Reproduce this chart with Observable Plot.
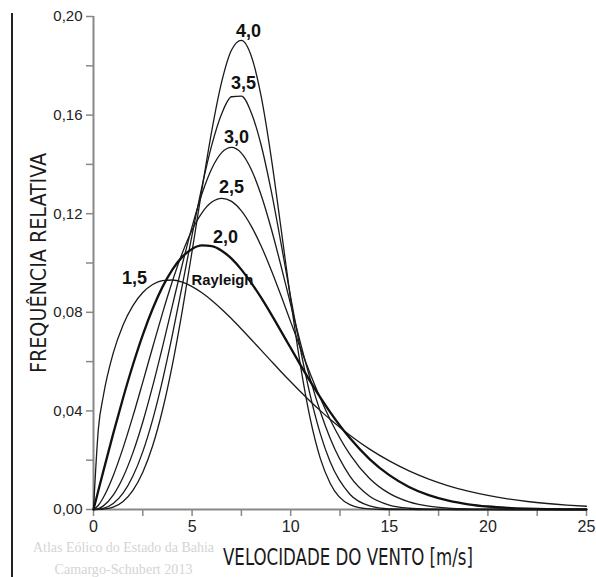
<!DOCTYPE html>
<html><head><meta charset="utf-8">
<script src="https://cdn.jsdelivr.net/npm/d3@7"></script>
<script src="https://cdn.jsdelivr.net/npm/@observablehq/plot@0.6"></script>
<style>
html,body{margin:0;padding:0;background:#fff;}
#chart{position:relative;width:596px;height:577px;overflow:hidden;}
#border{position:absolute;left:11px;top:13px;width:2px;height:570px;background:#222;}
</style></head><body><div id="chart"><div id="border"></div></div>
<script>
// Wind speed (m/s) at which the curves were read
const speeds = [0,0.25,0.5,1,1.5,2,2.5,3,3.5,4,4.5,5,5.5,6,6.5,7,7.5,8,8.5,9,9.5,10,10.5,11,11.5,12,13,14,15,16,17,18,19,20,21,22,23,24,25];
// Weibull shape factors (labels)
const shapes = ["1,5","2,0","2,5","3,0","3,5","4,0"];
// Relative frequency per curve
const f15 = [0,0.03296,0.04615,0.06343,0.07486,0.08273,0.08802,0.09126,0.09286,0.09310,0.09223,0.09044,0.08792,0.08481,0.08126,0.07737,0.07324,0.06898,0.06464,0.06031,0.05601,0.05182,0.04776,0.04384,0.04011,0.03658,0.03012,0.02450,0.01971,0.01567,0.01234,0.00962,0.00743,0.00569,0.00432,0.00325,0.00243,0.00180,0.00132];
const f20 = [0,0.00780,0.01556,0.03077,0.04525,0.05871,0.07086,0.08145,0.09032,0.09735,0.10249,0.10572,0.10713,0.10684,0.10498,0.10175,0.09732,0.09197,0.08591,0.07935,0.07247,0.06550,0.05860,0.05190,0.04550,0.03953,0.02898,0.02046,0.01393,0.00916,0.00581,0.00356,0.00211,0.00121,0.00067,0.00036,0.00019,0.00009,0.00004];
const f25 = [0,0.00173,0.00488,0.01373,0.02499,0.03786,0.05169,0.06584,0.07968,0.09258,0.10399,0.11338,0.12038,0.12471,0.12623,0.12498,0.12113,0.11496,0.10690,0.09740,0.08698,0.07612,0.06530,0.05488,0.04522,0.03649,0.02235,0.01259,0.00652,0.00309,0.00134,0.00053,0.00019,0.00006,0,0,0,0,0];
const f30 = [0,0.00037,0.00147,0.00585,0.01310,0.02307,0.03552,0.05003,0.06601,0.08273,0.09931,0.11475,0.12807,0.13834,0.14478,0.14693,0.14459,0.13795,0.12757,0.11428,0.09909,0.08312,0.06734,0.05268,0.03975,0.02887,0.01356,0.00540,0.00181,0.00050,0.00012,0.00002,0,0,0,0,0,0,0];
const f35 = [0,0.00008,0.00043,0.00242,0.00664,0.01357,0.02348,0.03648,0.05240,0.07080,0.09085,0.11139,0.13097,0.14790,0.16054,0.16744,0.16766,0.16095,0.14786,0.12972,0.10840,0.08608,0.06476,0.04601,0.03078,0.01933,0.00620,0.00148,0.00025,0.00003,0,0,0,0,0,0,0,0,0];
const f40 = [0,0.00002,0.00012,0.00098,0.00329,0.00778,0.01511,0.02585,0.04036,0.05871,0.08051,0.10480,0.12995,0.15373,0.17345,0.18638,0.19028,0.18394,0.16767,0.14349,0.11463,0.08501,0.05814,0.03643,0.02076,0.01068,0.00201,0.00023,0,0,0,0,0,0,0,0,0,0,0];
// Axis ticks
const xTicks = [0,2.5,5,7.5,10,12.5,15,17.5,20,22.5,25];
const xTickLabels = ["0","","5","","10","","15","","20","","25"];
const yTicks = [0,0.02,0.04,0.06,0.08,0.10,0.12,0.14,0.16,0.18,0.20];
const yTickLabels = ["0,00","","0,04","","0,08","","0,12","","0,16","","0,20"];
// Texts
const xTitle = "VELOCIDADE DO VENTO [m/s]";
const yTitle = "FREQUÊNCIA RELATIVA";
const credits = ["Atlas Eólico do Estado da Bahia","Camargo-Schubert 2013"];
const curveLabelText = ["4,0","3,5","3,0","2,5","2,0","1,5","Rayleigh"];

// Annotation anchors (data units)
const labelAt = [
  {t:curveLabelText[0], x:7.86, y:0.1939, s:18},
  {t:curveLabelText[1], x:7.61, y:0.1728, s:18},
  {t:curveLabelText[2], x:7.25, y:0.1509, s:18},
  {t:curveLabelText[3], x:7.00, y:0.1306, s:18},
  {t:curveLabelText[4], x:6.69, y:0.1103, s:18},
  {t:curveLabelText[5], x:2.08, y:0.0937, s:18},
  {t:curveLabelText[6], x:6.54, y:0.0929, s:15}
];

const series = [f15,f20,f25,f30,f35,f40];
const rows = series.flatMap((vals,i)=>vals.map((v,j)=>({k:shapes[i], x:speeds[j], y:v})));
const thin = rows.filter(d=>d.k!=="2,0");
const thick = rows.filter(d=>d.k==="2,0");

const sans = "'Liberation Sans', Arial, Helvetica, sans-serif";
const cond = "'DejaVu Sans Condensed', 'Liberation Sans Narrow', 'DejaVu Sans', sans-serif";

const plot = Plot.plot({
  width: 596, height: 577,
  marginLeft: 93, marginRight: 10, marginTop: 16, marginBottom: 68,
  x: {domain: [0,25]},
  y: {domain: [0,0.2]},
  style: {fontFamily: sans, fontSize: "15px", background: "white", color: "#222"},
  marks: [
    Plot.axisY({ticks: yTicks, tickSize: 7, tickPadding: 4, stroke: "#888", strokeWidth: 1.5, fill: "#222",
      tickFormat: d => yTickLabels[Math.round(d*50)], label: null, fontSize: 15}),
    Plot.axisX({ticks: xTicks, tickSize: 7, tickPadding: 4, stroke: "#888", strokeWidth: 1.5, fill: "#222",
      tickFormat: d => xTickLabels[Math.round(d/2.5)], label: null, fontSize: 16}),
    Plot.ruleX([0], {stroke: "#888", strokeWidth: 2}),
    Plot.ruleY([0], {stroke: "#888", strokeWidth: 2}),
    Plot.line(thin, {x: "x", y: "y", z: "k", stroke: "#1a1a1a", strokeWidth: 1.3, curve: "monotone-x"}),
    Plot.line(thick, {x: "x", y: "y", stroke: "#111", strokeWidth: 2.3, curve: "monotone-x"}),
    Plot.text(labelAt, {x: "x", y: "y", text: "t", fontSize: d => d.s, fontWeight: "bold", fill: "#111", fontFamily: sans}),
    Plot.text([yTitle], {text: d => d, frameAnchor: "left", textAnchor: "middle", rotate: -90, dx: -54, fontSize: 21, fontFamily: cond, fill: "#1a1a1a", lineAnchor: "middle"}),
    Plot.text([xTitle], {text: d => d, frameAnchor: "bottom", textAnchor: "middle", dx: 8, dy: 48, fontSize: 23, fontFamily: cond, fill: "#1a1a1a", lineAnchor: "middle"}),
    Plot.text([credits[0]], {text: d => d, frameAnchor: "bottom-left", textAnchor: "middle", dx: 30, dy: 38, fontSize: 14, fontFamily: "'Liberation Serif', 'DejaVu Serif', serif", fill: "#d4d4d4", lineAnchor: "middle"}),
    Plot.text([credits[1]], {text: d => d, frameAnchor: "bottom-left", textAnchor: "middle", dx: 30, dy: 60, fontSize: 14, fontFamily: "'Liberation Serif', 'DejaVu Serif', serif", fill: "#d4d4d4", lineAnchor: "middle"})
  ]
});
document.getElementById("chart").prepend(plot);
const svg = d3.select(plot);
const fit = (txt, len) => svg.selectAll("text").filter(function(){return this.textContent === txt;})
  .attr("textLength", len).attr("lengthAdjust", "spacingAndGlyphs");
fit(xTitle, 250);
fit(yTitle, 220);
fit(credits[0], 181);
fit(credits[1], 138);
fit(curveLabelText[6], 62);
</script></body></html>
